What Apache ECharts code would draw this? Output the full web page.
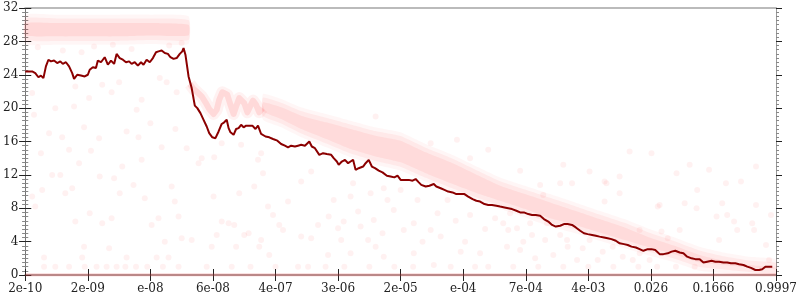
<!DOCTYPE html>
<html>
<head>
<meta charset="utf-8">
<script src="https://cdn.jsdelivr.net/npm/echarts@6/dist/echarts.min.js"></script>
<style>html,body{margin:0;padding:0;background:#fff}#c{width:800px;height:300px}</style>
</head>
<body>
<div id="c"></div>
<script>
// ---- data ----
const tickLabels = ["2e-10","2e-09","e-08","6e-08","4e-07","3e-06","2e-05","e-04","7e-04","4e-03","0.026","0.1666","0.9997"];

const lineX = [0.00,0.11,0.16,0.21,0.25,0.29,0.33,0.37,0.41,0.46,0.51,0.56,0.60,0.65,0.70,0.75,0.78,0.83,0.89,0.95,1.00,1.03,1.08,1.13,1.16,1.21,1.24,1.27,1.32,1.37,1.42,1.46,1.51,1.56,1.61,1.66,1.70,1.75,1.80,1.85,1.89,1.94,1.99,2.04,2.09,2.13,2.18,2.23,2.28,2.32,2.37,2.42,2.47,2.51,2.53,2.56,2.61,2.66,2.71,2.75,2.80,2.85,2.90,2.94,2.99,3.04,3.09,3.14,3.18,3.22,3.25,3.28,3.33,3.37,3.41,3.45,3.49,3.53,3.58,3.63,3.68,3.72,3.77,3.84,3.90,3.96,4.03,4.09,4.15,4.20,4.25,4.31,4.36,4.41,4.47,4.54,4.58,4.63,4.70,4.76,4.82,4.89,4.93,4.98,5.01,5.06,5.11,5.16,5.20,5.24,5.28,5.33,5.40,5.44,5.49,5.54,5.59,5.65,5.71,5.78,5.84,5.90,5.95,6.00,6.06,6.13,6.19,6.24,6.29,6.33,6.40,6.46,6.53,6.57,6.64,6.70,6.76,6.83,6.89,6.95,7.02,7.08,7.15,7.21,7.27,7.34,7.40,7.46,7.53,7.59,7.66,7.72,7.78,7.85,7.91,7.97,8.04,8.10,8.16,8.23,8.29,8.36,8.42,8.48,8.55,8.61,8.67,8.74,8.80,8.87,8.93,8.99,9.06,9.12,9.18,9.25,9.31,9.37,9.44,9.50,9.57,9.63,9.69,9.76,9.82,9.88,9.95,10.01,10.07,10.14,10.20,10.27,10.33,10.39,10.46,10.52,10.58,10.65,10.71,10.78,10.84,10.90,10.97,11.03,11.09,11.16,11.22,11.28,11.35,11.41,11.48,11.54,11.60,11.67,11.73,11.78,11.83,11.87,11.94,12.00];
const lineY = [24.4,24.4,24.2,23.7,23.9,23.6,25.0,25.8,25.6,25.7,25.4,25.6,25.3,25.5,25.0,24.2,23.5,24.0,23.9,23.8,24.0,24.6,24.9,24.8,25.7,25.5,25.8,26.1,25.2,25.7,25.3,26.5,26.0,25.8,25.5,25.6,25.3,25.5,25.1,25.5,25.2,25.8,25.5,26.0,26.7,26.8,26.9,26.6,26.5,26.1,25.9,26.0,26.5,26.8,27.2,26.4,23.8,22.4,20.3,20.0,19.4,18.6,17.8,17.0,16.5,16.4,17.2,18.1,18.3,18.6,17.6,17.1,16.8,17.5,17.6,18.0,17.7,17.9,17.9,17.9,17.5,17.9,16.9,16.6,16.5,16.3,16.1,15.7,15.5,15.3,15.5,15.4,15.5,15.6,15.5,16.0,15.4,15.2,14.4,14.6,14.5,14.4,14.0,13.6,13.2,13.6,13.8,13.4,13.6,13.8,12.6,12.8,13.0,13.4,13.8,13.0,12.8,12.5,12.3,11.9,11.8,11.7,11.9,11.4,11.4,11.4,11.3,11.5,11.1,10.8,10.6,10.7,10.9,10.6,10.4,10.2,10.0,9.9,9.7,9.7,9.7,9.4,9.1,8.9,8.8,8.5,8.4,8.4,8.3,8.2,8.1,8.0,7.9,7.7,7.5,7.5,7.3,7.2,7.2,7.1,6.7,6.4,6.0,5.8,5.9,6.1,6.1,6.0,5.7,5.3,5.0,4.9,4.8,4.7,4.6,4.5,4.4,4.3,4.1,3.8,3.7,3.6,3.4,3.3,3.1,2.9,3.1,3.1,3.0,2.5,2.5,2.6,2.8,2.9,2.7,2.6,2.2,2.0,1.9,1.9,1.5,1.6,1.7,1.6,1.6,1.5,1.5,1.4,1.4,1.3,1.2,1.0,0.85,0.6,0.6,0.7,1.0,1.0,1.0];

// dense cloud bands (x, lower, upper)
const topBandX = [0.00,0.50,1.00,1.50,2.00,2.61];
const topBandLow = [28.4,28.3,28.3,28.3,28.4,28.4];
const topBandHigh = [30.5,30.5,30.5,30.5,30.5,30.3];

const scallopX = [2.63,2.69,2.75,2.82,2.88,2.94,3.01,3.06,3.10,3.15,3.18,3.23,3.28,3.33,3.37,3.42,3.45,3.50,3.55,3.60,3.64,3.69,3.74,3.79];
const scallopY = [22.9,22.3,21.9,21.4,20.7,19.9,19.3,19.8,21.0,21.9,22.1,21.6,20.4,19.3,20.2,21.2,21.4,20.6,19.5,20.3,20.9,20.4,19.5,20.0];

const bandX = [3.80,4.09,4.41,4.81,5.20,5.60,6.00,6.40,6.80,7.19,7.59,7.99,8.39,8.79,9.18,9.58,9.98,10.38,10.78,11.17,11.57,12.00];
const bandLow = [19.3,18.4,17.2,16.0,14.8,13.9,13.2,11.9,10.7,9.6,8.6,7.6,6.5,5.7,4.8,3.9,3.0,2.2,1.2,0.9,0.6,0.4];
const bandHigh = [21.0,20.4,19.4,18.6,17.8,17.0,16.4,15.0,13.8,12.4,11.0,10.0,9.0,8.0,7.0,6.0,4.8,3.8,2.7,2.0,1.5,1.2];

// sparse scattered points (x, y)
const sparsePts = [
[0.14,19.2],[0.48,20.0],[0.78,20.2],[1.02,21.2],[1.23,22.8],[1.38,21.9],[1.78,19.8],[1.86,21.0],[2.15,23.6],[2.26,23.1],[2.42,21.9],[1.50,23.1],[0.80,22.6],[0.11,21.8],[0.94,17.7],[1.81,16.5],[1.62,17.2],[0.38,17.0],[1.18,16.4],[0.59,16.5],[2.18,15.3],[2.58,15.2],
[0.11,9.4],[0.27,10.2],[0.16,8.2],[0.43,12.0],[0.56,12.0],[0.64,9.8],[0.75,10.4],[0.80,6.4],[0.94,3.4],[1.03,7.4],[1.19,11.8],[1.23,6.2],[1.34,3.2],[1.42,11.6],[1.38,6.8],[1.51,9.8],[1.73,10.8],[1.86,13.8],[1.91,9.2],[2.02,6.0],[2.13,6.8],[2.23,4.0],[2.34,10.6],[2.39,8.8],[2.45,7.0],[2.50,4.4],[2.66,4.2],[2.77,13.4],[0.86,13.4],
[0.25,14.6],[1.05,14.9],[1.55,13.0],[2.00,18.2],[2.40,17.5],[0.70,15.0],
[0.2,27.3],[0.6,26.9],[1.1,27.4],[1.7,27.1],[2.3,27.5],[0.9,26.7],[1.4,27.6],[2.5,27.8],
[0.30,1.0],[0.48,1.0],[0.70,1.0],[0.95,1.0],[1.14,1.0],[1.30,1.0],[1.46,1.0],[1.60,1.0],[1.77,1.0],[1.95,1.0],[2.20,1.0],[2.45,1.0],
[0.30,2.1],[0.91,2.1],[1.62,2.1],[2.10,2.1],[2.29,2.1],
[3.02,14.1],[3.14,15.8],[3.45,15.6],[3.72,13.8],[3.80,12.2],[3.42,9.8],[3.01,9.4],[3.14,6.4],[3.25,6.2],[3.34,6.0],[3.06,4.8],[3.50,4.8],[2.98,3.4],[3.37,3.4],[3.74,3.4],[3.90,2.4],[3.96,7.2],[4.06,6.0],[4.12,5.4],[3.88,8.2],[4.20,8.8],[4.41,11.2],[4.57,12.4],[4.41,4.6],[4.57,4.4],[4.68,6.0],[4.85,7.0],[4.93,9.0],[5.00,5.6],[5.09,6.4],[5.24,11.0],[5.32,7.6],[5.36,5.8],[5.48,4.2],[5.57,6.6],[5.60,3.4],[5.71,5.0],[5.79,9.0],[5.89,7.8],[6.05,5.4],[6.21,6.2],[6.35,4.0],[6.48,5.4],[6.59,7.4],[6.64,4.6],[6.75,9.0],[6.27,9.0],[6.00,10.2],[5.73,10.4],[5.52,9.8],[5.20,9.4],[5.05,4.2],[4.84,2.4],[5.20,2.6],[5.73,2.2],[6.21,2.6],[6.53,1.2],[4.36,1.0],[4.52,1.0],[3.57,5.0],[3.77,4.2],[2.82,14.0],[3.66,10.6],[3.77,14.6],
[2.90,1.0],[3.30,1.0],[3.60,1.0],[4.00,1.0],[4.80,1.0],[5.10,1.0],[5.50,1.0],[5.90,1.0],[6.20,1.0],[6.80,1.0],
[7.70,3.4],[7.86,5.6],[7.72,5.4],[7.91,3.0],[8.10,4.8],[8.15,2.0],[8.31,4.2],[8.44,2.4],[8.55,4.8],[8.67,3.4],[8.82,1.8],[8.91,3.2],[9.02,4.2],[9.15,1.8],[9.23,2.8],[9.39,3.4],[9.55,2.2],[9.71,1.8],[9.82,2.6],[9.98,1.8],[7.64,6.2],[7.96,4.0],[8.34,6.2],[7.75,7.4],[8.07,6.2],[8.66,4.2],
[9.02,12.4],[9.50,11.8],[8.74,11.0],[9.29,11.0],[8.23,10.8],[8.28,9.6],[9.26,8.8],[9.82,5.4],
[6.88,6.5],[7.03,4.0],[7.11,7.2],[7.27,2.6],[7.35,5.5],[7.51,6.8],[6.96,2.8],[7.19,1.0],
[6.48,15.8],[7.11,14.0],[7.91,12.5],[8.55,11.0],[5.60,19.0],[6.90,16.2],[8.60,13.2],[7.40,15.0],
[7.40,1.0],[7.80,1.0],[8.20,1.0],[8.60,1.0],[9.00,1.0],[9.40,1.0],[9.80,1.0],[10.10,1.0],[10.40,1.0],[10.70,1.0],
[9.66,14.8],[10.01,14.6],[10.41,12.2],[10.62,13.2],[10.93,12.6],[11.20,11.0],[11.44,11.2],[11.68,13.0],[9.26,11.2],[9.50,9.8],[10.14,8.4],[10.46,5.4],[10.54,8.6],[11.05,7.0],[10.74,10.2],[11.22,7.2],[11.33,6.4],[11.65,5.4],[11.38,5.4],[11.84,3.6],[11.89,1.8],[10.11,8.2],[10.73,8.0],[11.14,8.6],[11.68,8.4],[11.62,6.2],[10.17,5.2],[10.27,4.4],[11.09,4.2],[11.92,7.2]
];

const zeroRowX = [0, 12];
const zeroRowY = [0, 0];

// ---- chart ----
const FONT = 'DejaVu Serif';
const chart = echarts.init(document.getElementById('c'), null, {renderer: 'canvas'});

function bandSeries(xs, lows, highs, pad, color) {
  return {
    type: 'custom', xAxisIndex: 0, yAxisIndex: 0, silent: true, z: 3,
    data: [[xs[0], lows[0]]],
    renderItem: function (params, api) {
      const pts = [];
      for (let i = 0; i < xs.length; i++) pts.push(api.coord([xs[i], highs[i] + pad]));
      for (let i = xs.length - 1; i >= 0; i--) pts.push(api.coord([xs[i], Math.max(0, lows[i] - pad)]));
      return {type: 'polygon', shape: {points: pts, smooth: 0.15}, style: {fill: color}};
    }
  };
}

const yBase = {
  type: 'value', min: 0, max: 32, interval: 4,
  splitLine: {show: false},
  axisLabel: {show: false},
  axisLine: {show: false},
  axisTick: {show: true, length: 6, lineStyle: {color: '#222', width: 1}},
  minorTick: {show: true, splitNumber: 8, length: 3, lineStyle: {color: '#888', width: 1}}
};
const xBase = {
  type: 'value', min: 0, max: 12, interval: 1,
  splitLine: {show: false},
  axisLabel: {show: false},
  axisLine: {show: false},
  axisTick: {show: true, length: 6, lineStyle: {color: '#222', width: 1}}
};

chart.setOption({
  animation: false,
  backgroundColor: '#fff',
  grid: {left: 23, right: 23, top: 8, bottom: 25, containLabel: false},
  xAxis: [
    Object.assign({}, xBase, {
      position: 'bottom',
      axisLine: {show: true, onZero: false, lineStyle: {color: '#aaa', width: 2}},
      axisTick: {show: true, inside: true, length: 6, lineStyle: {color: '#222', width: 1}},
      axisLabel: {show: true, margin: 8, fontFamily: FONT, fontSize: 12, color: '#222',
        formatter: function (v) { return tickLabels[Math.round(v)]; }}
    }),
    Object.assign({}, xBase, {position: 'bottom', axisTick: {show: true, inside: false, length: 6, lineStyle: {color: '#222', width: 1}}}),
    Object.assign({}, xBase, {position: 'top', axisTick: {show: false},
      axisLine: {show: true, onZero: false, lineStyle: {color: '#bbb', width: 2}}})
  ],
  yAxis: [
    Object.assign({}, yBase, {
      position: 'left',
      axisLine: {show: true, onZero: false, lineStyle: {color: '#777', width: 1}},
      axisTick: {show: true, inside: false, length: 6, lineStyle: {color: '#222', width: 1}},
      axisLabel: {show: true, margin: 7, fontFamily: FONT, fontSize: 12, color: '#222'}
    }),
    Object.assign({}, yBase, {position: 'left', axisTick: {show: true, inside: true, length: 6, lineStyle: {color: '#222', width: 1}}}),
    Object.assign({}, yBase, {position: 'right',
      axisLine: {show: true, onZero: false, lineStyle: {color: '#999', width: 1}},
      axisTick: {show: true, inside: false, length: 6, lineStyle: {color: '#222', width: 1}}}),
    Object.assign({}, yBase, {position: 'right', axisTick: {show: true, inside: true, length: 6, lineStyle: {color: '#222', width: 1}}})
  ],
  series: [
    {
      type: 'scatter', name: 'samples', silent: true, z: 2,
      symbol: 'circle', symbolSize: 6,
      itemStyle: {color: 'rgba(255,0,0,0.07)'},
      data: sparsePts
    },
    bandSeries(topBandX, topBandLow, topBandHigh, 0.7, 'rgba(255,0,0,0.035)'),
    bandSeries(topBandX, topBandLow, topBandHigh, 0.25, 'rgba(255,0,0,0.05)'),
    bandSeries(topBandX, topBandLow, topBandHigh, -0.3, 'rgba(255,0,0,0.07)'),
    bandSeries(bandX, bandLow, bandHigh, 0.7, 'rgba(255,0,0,0.035)'),
    bandSeries(bandX, bandLow, bandHigh, 0.25, 'rgba(255,0,0,0.05)'),
    bandSeries(bandX, bandLow, bandHigh, -0.3, 'rgba(255,0,0,0.06)'),
    {
      type: 'line', silent: true, z: 3, symbol: 'none',
      lineStyle: {color: 'rgba(255,0,0,0.05)', width: 12, join: 'round', cap: 'butt'},
      data: scallopX.map((x, i) => [x, scallopY[i]])
    },
    {
      type: 'line', silent: true, z: 3, symbol: 'none',
      lineStyle: {color: 'rgba(255,0,0,0.1)', width: 6, join: 'round', cap: 'butt'},
      data: scallopX.map((x, i) => [x, scallopY[i]])
    },
    {
      type: 'line', silent: true, z: 3, symbol: 'none',
      lineStyle: {color: 'rgba(230,60,60,0.3)', width: 3},
      data: zeroRowX.map((x, i) => [x, zeroRowY[i]])
    },
    {
      type: 'line', name: 'median', silent: true, z: 5, symbol: 'none',
      lineStyle: {color: '#8b0000', width: 2},
      data: lineX.map((x, i) => [x, lineY[i]])
    }
  ]
});
</script>
</body>
</html>
